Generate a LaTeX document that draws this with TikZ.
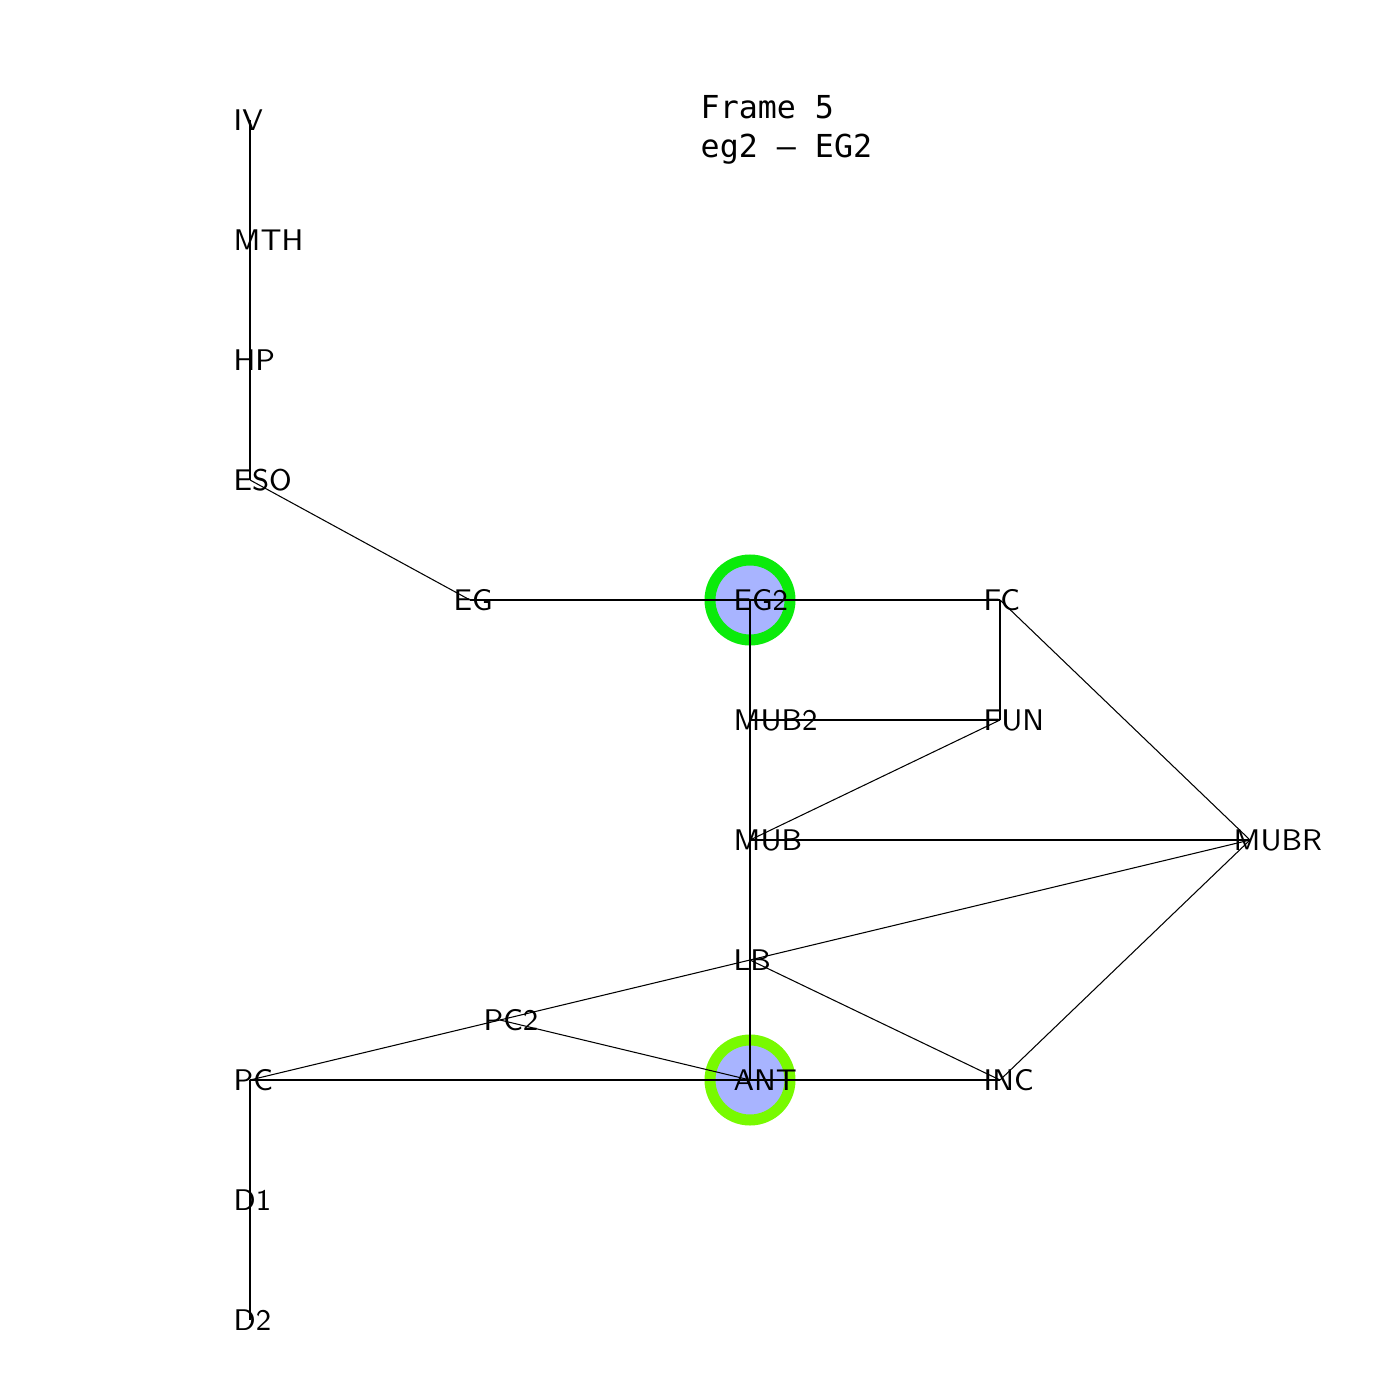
\documentclass[tikz,border=0pt]{standalone}
\usepackage{fontspec}
\newfontfamily\titlefont{DejaVu Sans Mono}
\usepackage{tikz}

\definecolor{nodefill}{RGB}{168,180,255}
\definecolor{ringgreen}{RGB}{10,235,10}
\definecolor{ringlime}{RGB}{120,250,0}

\tikzset{
  edge/.style={black, line width=0.3pt},
  lbl/.style={anchor=west, inner sep=0pt, xshift=-1.7mm,
    font=\sffamily\fontsize{8.5}{10}\selectfont},
  ttl/.style={anchor=base west, inner sep=0pt,
    font=\titlefont\fontsize{9}{11}\selectfont},
  hilite/.style={fill=nodefill, draw=#1, line width=1.1mm}
}

\begin{document}
\begin{tikzpicture}[x=0.1mm, y=-0.1mm]
    \useasboundingbox (0,0) rectangle (1400,1400);

    % node points
    \coordinate (IV) at (250,120);
    \coordinate (MTH) at (250,240);
    \coordinate (HP) at (250,360);
    \coordinate (ESO) at (250,480);
    \coordinate (EG) at (470,600);
    \coordinate (EG2) at (750,600);
    \coordinate (FC) at (1000,600);
    \coordinate (MUB2) at (750,720);
    \coordinate (FUN) at (1000,720);
    \coordinate (MUB) at (750,840);
    \coordinate (MUBR) at (1250,840);
    \coordinate (LB) at (750,960);
    \coordinate (PC2) at (500,1020);
    \coordinate (PC) at (250,1080);
    \coordinate (ANT) at (750,1080);
    \coordinate (INC) at (1000,1080);
    \coordinate (D1) at (250,1200);
    \coordinate (D2) at (250,1320);

    % highlighted nodes
    \filldraw[hilite=ringgreen] (EG2) circle (4mm);
    \filldraw[hilite=ringlime] (ANT) circle (4mm);

    % edges
    \foreach \a/\b in {IV/MTH, MTH/HP, HP/ESO, ESO/EG, EG/EG2, EG2/FC,
        FC/FUN, FC/MUBR, EG2/MUB2, MUB2/MUB, MUB/LB, LB/ANT, MUB2/FUN,
        FUN/MUB, MUB/MUBR, MUBR/LB, LB/PC2, PC2/PC, LB/INC, PC2/ANT,
        PC/ANT, ANT/INC, INC/MUBR, PC/D1, D1/D2}
        \draw[edge] (\a) -- (\b);

    % labels
    \foreach \n in {IV, MTH, HP, ESO, EG, EG2, FC, MUB2, FUN, MUB, MUBR,
        LB, PC2, PC, ANT, INC, D1, D2}
        \node[lbl] (\n-t) at (\n) {\n};

    % title
    \node[ttl] (frame) at (700,119) {Frame 5};
    \node[ttl] (sel) at (700,158) {eg2 – EG2};
\end{tikzpicture}
\end{document}
